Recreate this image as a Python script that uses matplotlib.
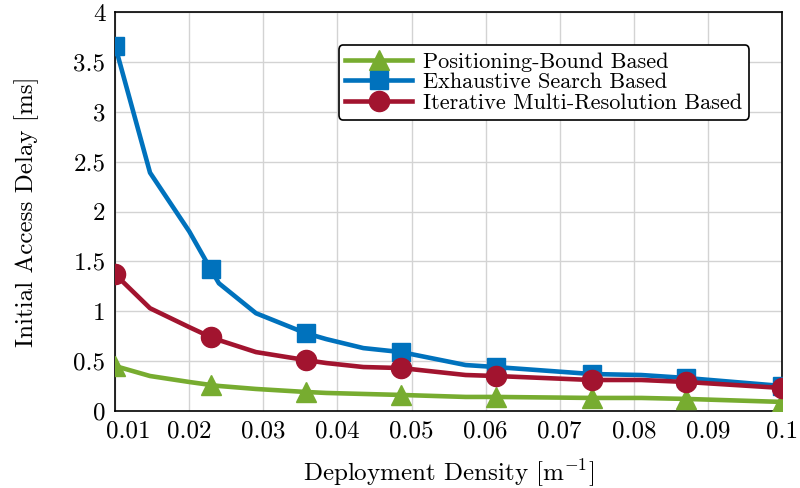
import numpy as np
import matplotlib
matplotlib.use('Agg')
import matplotlib.pyplot as plt
import matplotlib.transforms as mtransforms

# datos
densidad = [0.0100, 0.0147, 0.0200, 0.0229, 0.0240, 0.0290, 0.0357, 0.0385,
            0.0435, 0.0486, 0.0573, 0.0614, 0.0743, 0.0810, 0.0871, 0.1000]
exhaustive = [3.66, 2.39, 1.80, 1.42, 1.28, 0.98, 0.78, 0.72,
              0.63, 0.59, 0.46, 0.44, 0.37, 0.36, 0.33, 0.25]
iterativo = [1.37, 1.03, 0.84, 0.74, 0.71, 0.59, 0.51, 0.48,
             0.44, 0.43, 0.36, 0.35, 0.31, 0.31, 0.29, 0.23]
posicion = [0.45, 0.35, 0.29, 0.26, 0.25, 0.22, 0.19, 0.18,
            0.17, 0.16, 0.14, 0.14, 0.13, 0.13, 0.12, 0.09]
marcas = [0, 3, 6, 9, 11, 12, 14, 15]

xticks = [0.01, 0.02, 0.03, 0.04, 0.05, 0.06, 0.07, 0.08, 0.09, 0.1]
xticklabels = ['0.01', '0.02', '0.03', '0.04', '0.05', '0.06', '0.07', '0.08', '0.09', '0.1']
yticks = [0, 0.5, 1, 1.5, 2, 2.5, 3, 3.5, 4]
yticklabels = ['0', '0.5', '1', '1.5', '2', '2.5', '3', '3.5', '4']

plt.rcParams['font.family'] = 'cmr10'
plt.rcParams['mathtext.fontset'] = 'cm'
plt.rcParams['axes.formatter.use_mathtext'] = True

fig = plt.figure(figsize=(8, 4.88), dpi=100)
ax = fig.add_axes([0.144, 0.158, 0.8335, 0.817])

ax.plot(densidad, posicion, color='#77AC30', lw=3.3, marker='^', ms=15,
        markevery=marcas, label='Positioning-Bound Based', zorder=3)
ax.plot(densidad, exhaustive, color='#0072BD', lw=3.3, marker='s', ms=13,
        markevery=marcas, label='Exhaustive Search Based', zorder=3)
ax.plot(densidad, iterativo, color='#A2142F', lw=3.3, marker='o', ms=14.5,
        markevery=marcas, label='Iterative Multi-Resolution Based', zorder=4)

ax.set_xlim(0.01, 0.1)
ax.set_ylim(0, 4)
ax.set_xticks(xticks)
ax.set_xticklabels(xticklabels)
ax.set_yticks(yticks)
ax.set_yticklabels(yticklabels)
ax.tick_params(length=0, labelsize=18, pad=7)
ax.grid(True, color='#d3d3d3', lw=1)
ax.set_axisbelow(True)
for s in ax.spines.values():
    s.set_linewidth(1.2)

# el primer label del eje x va corrido a la derecha para no chocar con el 0
primero = ax.get_xticklabels()[0]
primero.set_transform(primero.get_transform() +
                      mtransforms.ScaledTranslation(13 / 100, 0, fig.dpi_scale_trans))

ax.set_xlabel(r'Deployment Density [m$^{-1}$]', fontsize=18, labelpad=11)
ax.set_ylabel('Initial Access Delay [ms]', fontsize=18, labelpad=25)

leg = ax.legend(loc='upper right', bbox_to_anchor=(0.9505, 0.917), fontsize=16,
                frameon=True, fancybox=True, edgecolor='black', framealpha=1,
                handlelength=3.0, borderpad=0.3, labelspacing=0.05,
                borderaxespad=0, handletextpad=0.5)
leg.get_frame().set_linewidth(1.2)

fig.savefig('out.png', dpi=100)
